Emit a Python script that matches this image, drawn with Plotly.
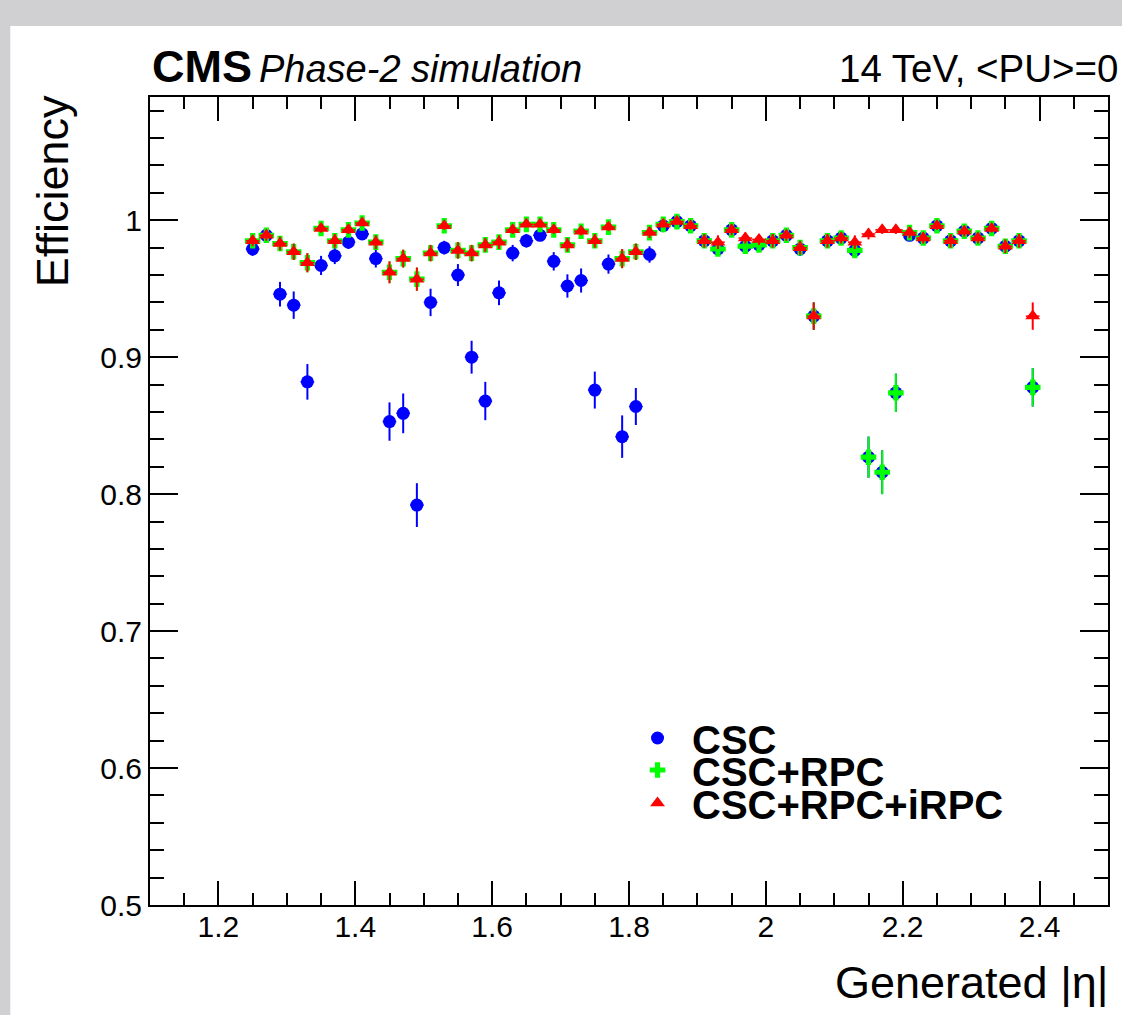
import plotly.graph_objects as go

# Bin centres of generated |eta|
eta = [1.25, 1.27, 1.29, 1.31, 1.33, 1.35, 1.37, 1.39, 1.41, 1.43,
       1.45, 1.47, 1.49, 1.51, 1.53, 1.55, 1.57, 1.59, 1.61, 1.63,
       1.65, 1.67, 1.69, 1.71, 1.73, 1.75, 1.77, 1.79, 1.81, 1.83,
       1.85, 1.87, 1.89, 1.91, 1.93, 1.95, 1.97, 1.99, 2.01, 2.03,
       2.05, 2.07, 2.09, 2.11, 2.13, 2.15, 2.17, 2.19, 2.21, 2.23,
       2.25, 2.27, 2.29, 2.31, 2.33, 2.35, 2.37, 2.39]
eta_halfwidth = [0.01] * len(eta)

eff_csc = [0.979, 0.989, 0.946, 0.938, 0.882, 0.967, 0.974, 0.984, 0.990, 0.972,
           0.853, 0.859, 0.792, 0.940, 0.980, 0.960, 0.900, 0.868, 0.947, 0.976,
           0.985, 0.989, 0.970, 0.952, 0.956, 0.876, 0.968, 0.842, 0.864, 0.975,
           0.996, 0.999, 0.996, 0.985, 0.979, 0.993, 0.981, 0.982, 0.985, 0.989,
           0.979, 0.930, 0.985, 0.987, 0.978, 0.827, 0.816, 0.874, 0.989, 0.987,
           0.996, 0.985, 0.992, 0.987, 0.994, 0.981, 0.985, 0.878]
err_csc = [0.005, 0.004, 0.009, 0.010, 0.013, 0.007, 0.006, 0.005, 0.004, 0.0065,
           0.014, 0.0145, 0.016, 0.010, 0.005, 0.008, 0.012, 0.014, 0.009, 0.006,
           0.005, 0.004, 0.0067, 0.0085, 0.0088, 0.0135, 0.007, 0.0155, 0.0135, 0.006,
           0.003, 0.002, 0.003, 0.005, 0.005, 0.004, 0.005, 0.005, 0.005, 0.004,
           0.005, 0.010, 0.005, 0.004, 0.005, 0.015, 0.016, 0.014, 0.004, 0.004,
           0.003, 0.005, 0.004, 0.004, 0.003, 0.005, 0.005, 0.014]

eff_csc_rpc = [0.985, 0.989, 0.983, 0.977, 0.969, 0.994, 0.985, 0.993, 0.998, 0.984,
               0.962, 0.972, 0.957, 0.976, 0.996, 0.978, 0.976, 0.982, 0.984, 0.993,
               0.997, 0.997, 0.993, 0.982, 0.992, 0.985, 0.995, 0.972, 0.977, 0.991,
               0.997, 0.999, 0.996, 0.985, 0.979, 0.993, 0.981, 0.982, 0.985, 0.989,
               0.980, 0.930, 0.985, 0.987, 0.978, 0.827, 0.816, 0.874, 0.991, 0.987,
               0.996, 0.985, 0.992, 0.987, 0.994, 0.981, 0.985, 0.878]
err_csc_rpc = [0.004, 0.004, 0.005, 0.006, 0.007, 0.003, 0.005, 0.003, 0.002, 0.005,
               0.008, 0.0065, 0.0085, 0.006, 0.003, 0.006, 0.006, 0.005, 0.005, 0.003,
               0.002, 0.002, 0.003, 0.005, 0.003, 0.005, 0.003, 0.007, 0.006, 0.004,
               0.002, 0.002, 0.003, 0.005, 0.005, 0.004, 0.005, 0.005, 0.005, 0.004,
               0.005, 0.010, 0.005, 0.004, 0.005, 0.015, 0.016, 0.014, 0.004, 0.004,
               0.003, 0.005, 0.004, 0.004, 0.003, 0.005, 0.005, 0.014]

eff_csc_rpc_irpc = [0.985, 0.989, 0.983, 0.977, 0.969, 0.994, 0.985, 0.993, 0.998, 0.984,
                    0.962, 0.972, 0.957, 0.976, 0.996, 0.978, 0.976, 0.982, 0.984, 0.993,
                    0.997, 0.997, 0.993, 0.982, 0.992, 0.985, 0.995, 0.972, 0.977, 0.991,
                    0.997, 0.999, 0.996, 0.985, 0.984, 0.993, 0.987, 0.986, 0.985, 0.989,
                    0.980, 0.930, 0.985, 0.987, 0.984, 0.990, 0.993, 0.993, 0.991, 0.987,
                    0.996, 0.985, 0.992, 0.987, 0.994, 0.981, 0.985, 0.930]
err_csc_rpc_irpc = [0.004, 0.004, 0.005, 0.006, 0.007, 0.003, 0.005, 0.003, 0.002, 0.005,
                    0.008, 0.0065, 0.0085, 0.006, 0.003, 0.006, 0.006, 0.005, 0.005, 0.003,
                    0.002, 0.002, 0.003, 0.005, 0.003, 0.005, 0.003, 0.007, 0.006, 0.004,
                    0.002, 0.002, 0.003, 0.005, 0.005, 0.004, 0.004, 0.004, 0.005, 0.004,
                    0.005, 0.010, 0.005, 0.004, 0.005, 0.004, 0.003, 0.003, 0.004, 0.004,
                    0.003, 0.005, 0.004, 0.004, 0.003, 0.005, 0.005, 0.010]

series_names = ["CSC", "CSC+RPC", "CSC+RPC+iRPC"]
series_colors = ["#0000ff", "#00ff00", "#ff0000"]
series_symbols = ["circle", "cross", "triangle-up"]

W, H = 1122, 1015
ML, MR, MT, MB = 150, 12, 97, 110
PW, PH = W - ML - MR, H - MT - MB


def px(xp):
    return (xp - ML) / PW


def py(yp):
    return (H - MB - yp) / PH


FONT = "Liberation Sans, Arial, Helvetica, sans-serif"

fig = go.Figure()
data_sets = [(eff_csc, err_csc), (eff_csc_rpc, err_csc_rpc), (eff_csc_rpc_irpc, err_csc_rpc_irpc)]
legend_ids = ["legend", "legend2", "legend3"]
for i, (vals, errs) in enumerate(data_sets):
    fig.add_trace(go.Scatter(
        x=eta, y=vals, mode="markers", name=series_names[i],
        marker=dict(symbol=series_symbols[i], color=series_colors[i], size=13,
                    line=dict(width=0)),
        error_y=dict(type="data", array=errs, visible=True, color=series_colors[i],
                     thickness=2, width=0),
        error_x=dict(type="data", array=eta_halfwidth, visible=True, color=series_colors[i],
                     thickness=1.5, width=0),
        legend=legend_ids[i], showlegend=True,
    ))

axis_common = dict(showline=True, linecolor="black", linewidth=2, mirror="allticks",
                   ticks="inside", tickcolor="black", tickwidth=1.5, showgrid=False,
                   zeroline=False, tickfont=dict(family=FONT, size=30, color="black"))

fig.update_xaxes(range=[1.1, 2.5], dtick=0.2, tick0=1.2, ticklen=24, ticklabelstandoff=-6,
                 minor=dict(dtick=0.05, ticklen=12, ticks="inside", tickcolor="black",
                            tickwidth=1.5, showgrid=False),
                 **axis_common)
fig.update_yaxes(range=[0.5, 1.09], dtick=0.1, tick0=0.5, ticklen=28,
                 minor=dict(dtick=0.02, ticklen=14, ticks="inside", tickcolor="black",
                            tickwidth=1.5, showgrid=False),
                 **axis_common)

legend_y = [738, 770, 803]
leg_style = dict(font=dict(family=FONT, size=40, color="black", weight="bold"),
                 bgcolor="rgba(0,0,0,0)", borderwidth=0, xanchor="left", yanchor="middle",
                 itemwidth=59)
fig.update_layout(
    showlegend=True,
    legend=dict(x=px(624), y=py(legend_y[0]), **leg_style),
    legend2=dict(x=px(624), y=py(legend_y[1]), **leg_style),
    legend3=dict(x=px(624), y=py(legend_y[2]), **leg_style),
)

annotations = [
    dict(text="<b>CMS</b>", x=px(150), y=py(66), xanchor="left", yanchor="middle",
         font=dict(family=FONT, size=45, color="black")),
    dict(text="<i>Phase-2 simulation</i>", x=px(257), y=py(69), xanchor="left", yanchor="middle",
         font=dict(family=FONT, size=38, color="black")),
    dict(text="14 TeV, &lt;PU&gt;=0", x=px(838), y=py(69),
         xanchor="left", yanchor="middle", font=dict(family=FONT, size=38.5, color="black")),
    dict(text="Efficiency", x=px(52), y=py(93), xanchor="center", yanchor="top", textangle=-90,
         font=dict(family=FONT, size=45, color="black")),
    dict(text="Generated |η|", x=px(1113), y=py(982), xanchor="right", yanchor="middle",
         font=dict(family=FONT, size=45, color="black")),
]
for a in annotations:
    a.update(xref="paper", yref="paper", showarrow=False)

shapes = [
    dict(type="rect", xref="paper", yref="paper", x0=px(-5), x1=px(W + 5), y0=py(26), y1=py(-5),
         fillcolor="#d0d0d2", line=dict(width=0), layer="above"),
    dict(type="rect", xref="paper", yref="paper", x0=px(-5), x1=px(10), y0=py(H + 5), y1=py(-5),
         fillcolor="#d0d0d2", line=dict(width=0), layer="above"),
]

fig.update_layout(
    width=W, height=H, autosize=False,
    margin=dict(l=ML, r=MR, t=MT, b=MB, pad=0),
    paper_bgcolor="white", plot_bgcolor="white",
    annotations=annotations, shapes=shapes,
    font=dict(family=FONT, color="black"),
)

fig.write_html(
    "out.html",
    config={"displayModeBar": False},
    post_script="document.body.style.margin='0';document.body.style.overflow='hidden';",
)
